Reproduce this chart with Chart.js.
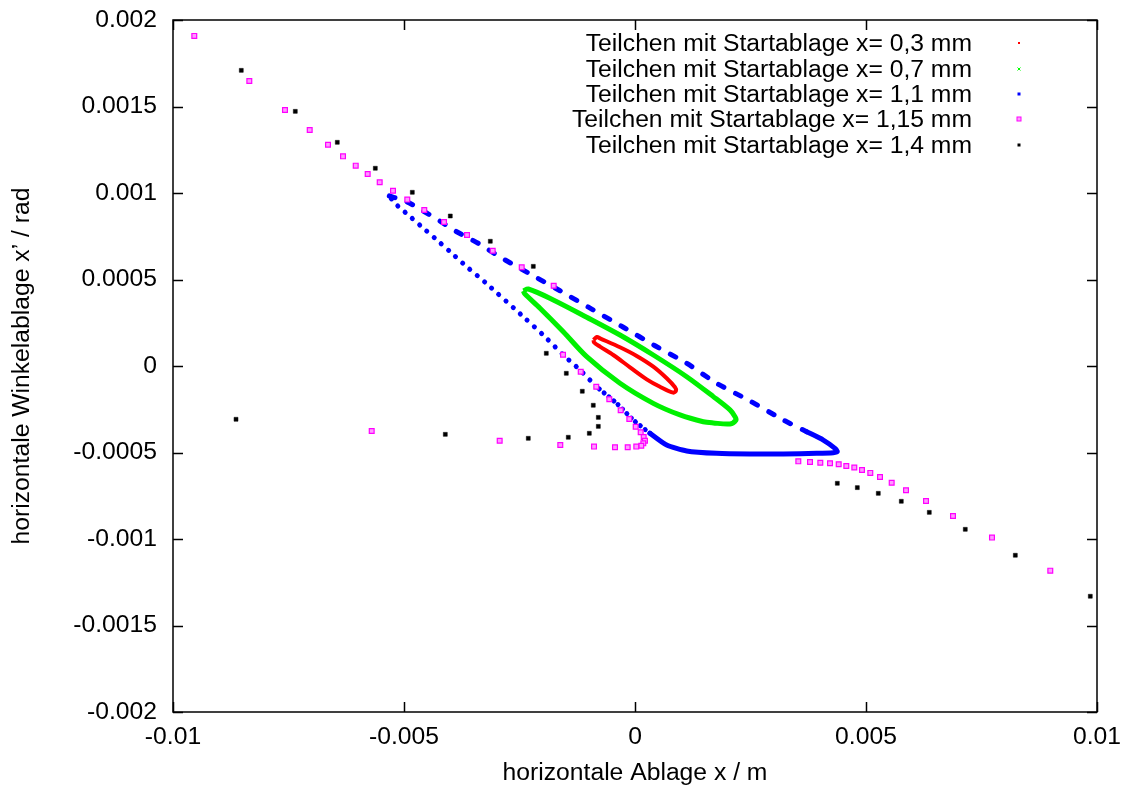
<!DOCTYPE html>
<html>
<head>
<meta charset="utf-8">
<script src="https://cdn.jsdelivr.net/npm/chart.js@4.4.1/dist/chart.umd.min.js"></script>
<style>
  html, body { margin: 0; padding: 0; background: #fff; }
  #wrap { width: 1130px; height: 790px; }
</style>
</head>
<body>
<div id="wrap"><canvas id="chartCanvas" width="1130" height="790"></canvas></div>
<script>
// phase space points: [x / m, x' / rad]
const start03 = [
  [-0.000898, 0.000150], [-0.000823, 0.000168], [-0.000758, 0.000160], [-0.000325, 0.000108],
  [0.000037, 0.0000578], [0.000396, -0.000004], [0.000686, -0.0000711], [0.000866, -0.000123],
  [0.000887, -0.000142], [0.000829, -0.000154], [0.000541, -0.000120], [0.000253, -0.0000769],
  [-0.000108, -0.0000075], [-0.000470, 0.0000636], [-0.000758, 0.000112], [-0.000887, 0.000137],
  [-0.000898, 0.000150]
];

const start07 = [
  [-0.002418, 0.000434], [-0.002310, 0.000445], [-0.001768, 0.000382], [-0.001045, 0.000282],
  [-0.000325, 0.000179], [0.000396, 0.0000636], [0.001119, -0.0000618], [0.001695, -0.000177],
  [0.002056, -0.000254], [0.002165, -0.000293], [0.002186, -0.000312], [0.002056, -0.000335],
  [0.001695, -0.000329], [0.001478, -0.000322], [0.000974, -0.000283], [0.000396, -0.000216],
  [-0.000325, -0.000100], [-0.001045, 0.0000538], [-0.001552, 0.000198], [-0.002056, 0.000334],
  [-0.002381, 0.000416], [-0.002418, 0.000434]
];

const start11 = [
  [-0.005318, 0.000983], [-0.004942, 0.000950], [-0.004582, 0.000896], [-0.004221, 0.000838],
  [-0.003859, 0.000776], [-0.003392, 0.000709], [-0.002922, 0.000630], [-0.002310, 0.000538],
  [-0.001623, 0.000435], [-0.000937, 0.000329], [-0.000253, 0.000224], [0.000433, 0.000117],
  [0.001119, 0.0000156], [0.001768, -0.000100], [0.002489, -0.000202], [0.003210, -0.000312],
  [0.003716, -0.000380], [0.004076, -0.000428], [0.004329, -0.000476], [0.004379, -0.000495],
  [0.004292, -0.000501], [0.003933, -0.000505], [0.003210, -0.000509], [0.002489, -0.000509],
  [0.001768, -0.000505], [0.001119, -0.000491], [0.000686, -0.000457], [0.000325, -0.000389],
  [-0.000037, -0.000312], [-0.000396, -0.000216], [-0.000829, -0.000120], [-0.001190, -0.0000231],
  [-0.001552, 0.0000636], [-0.001948, 0.000169], [-0.002381, 0.000276], [-0.003247, 0.000484],
  [-0.003643, 0.000574], [-0.004004, 0.000661], [-0.004329, 0.000738], [-0.004617, 0.000805],
  [-0.004907, 0.000873], [-0.005195, 0.000940], [-0.005318, 0.000983]
];

const start115 = [
  [-0.009539, 0.001908], [-0.008348, 0.001647], [-0.007576, 0.001480], [-0.007041, 0.001364],
  [-0.006645, 0.001279], [-0.006320, 0.001212], [-0.006045, 0.001158], [-0.005786, 0.001110],
  [-0.005526, 0.001062], [-0.005238, 0.001013], [-0.004929, 0.000962], [-0.004561, 0.000902],
  [-0.004134, 0.000832], [-0.003636, 0.000757], [-0.003080, 0.000666], [-0.002452, 0.000571],
  [-0.001760, 0.000464], [-0.001558, 0.0000653], [-0.001175, -0.0000329], [-0.000838, -0.000120],
  [-0.000556, -0.000192], [-0.000310, -0.000256], [-0.000123, -0.000306], [0.000015, -0.000351],
  [0.000123, -0.000383], [0.000188, -0.000410], [0.000216, -0.000432], [0.000180, -0.000447],
  [0.000136, -0.000461], [0.000028, -0.000466], [-0.000158, -0.000470], [-0.000433, -0.000470],
  [-0.000887, -0.000466], [-0.001617, -0.000457], [-0.002929, -0.000432], [-0.005699, -0.000376],
  [0.003535, -0.000551], [0.003788, -0.000555], [0.004011, -0.000559], [0.004221, -0.000562],
  [0.004409, -0.000568], [0.004574, -0.000578], [0.004747, -0.000587], [0.004913, -0.000601],
  [0.005093, -0.000618], [0.005303, -0.000642], [0.005556, -0.000675], [0.005866, -0.000718],
  [0.006299, -0.000780], [0.006883, -0.000867], [0.007727, -0.000992], [0.008989, -0.001183]
];

const start14 = [
  [-0.008522, 0.001709], [-0.007353, 0.001472], [-0.006444, 0.001293], [-0.005621, 0.001143],
  [-0.004820, 0.001004], [-0.003998, 0.000867], [-0.003132, 0.000721], [-0.002201, 0.000576],
  [-0.001920, 0.0000734], [-0.001487, -0.0000422], [-0.001141, -0.000146], [-0.000903, -0.000227],
  [-0.000794, -0.000297], [-0.000794, -0.000349], [-0.000989, -0.000389], [-0.001444, -0.000412],
  [-0.002310, -0.000418], [-0.004106, -0.000395], [-0.008636, -0.000308],
  [0.004379, -0.000678], [0.004812, -0.000703], [0.005266, -0.000736], [0.005764, -0.000782],
  [0.006370, -0.000846], [0.007149, -0.000944], [0.008232, -0.001094], [0.009855, -0.001331]
];

const seriesLabels = [
  "Teilchen mit Startablage x= 0,3 mm",
  "Teilchen mit Startablage x= 0,7 mm",
  "Teilchen mit Startablage x= 1,1 mm",
  "Teilchen mit Startablage x= 1,15 mm",
  "Teilchen mit Startablage x= 1,4 mm"
];

const xTickValues = [-0.01, -0.005, 0, 0.005, 0.01];
const yTickValues = [-0.002, -0.0015, -0.001, -0.0005, 0, 0.0005, 0.001, 0.0015, 0.002];

const toXY = (pts) => pts.map(([x, y]) => ({ x, y }));

const FONT = "'Liberation Sans', Arial, Helvetica, sans-serif";
Chart.defaults.font.family = FONT;
Chart.defaults.font.size = 24.7;
Chart.defaults.color = "#000";

// gnuplot style frame with inward ticks on all four sides
const framePlugin = {
    id: "frame",
    beforeDatasetsDraw(chart) {
        const { ctx, chartArea: a, scales } = chart;
        ctx.save();
        ctx.strokeStyle = "#000";
        ctx.lineWidth = 1.5;
        ctx.strokeRect(a.left, a.top, a.right - a.left, a.bottom - a.top);
        ctx.beginPath();
        xTickValues.forEach((v) => {
            const px = Math.round(scales.x.getPixelForValue(v)) + 0.5;
            ctx.moveTo(px, a.bottom);
            ctx.lineTo(px, a.bottom - 10);
            ctx.moveTo(px, a.top);
            ctx.lineTo(px, a.top + 10);
        });
        yTickValues.forEach((v) => {
            const py = Math.round(scales.y.getPixelForValue(v)) + 0.5;
            ctx.moveTo(a.left, py);
            ctx.lineTo(a.left + 10, py);
            ctx.moveTo(a.right, py);
            ctx.lineTo(a.right - 10, py);
        });
        ctx.stroke();
        ctx.restore();
    },
    afterDraw(chart) {
        // key in the top right corner: text right aligned, sample point to the right
        const ctx = chart.ctx;
        const rows = [43, 69, 94, 119, 145];
        ctx.save();
        ctx.font = "24.7px " + FONT;
        ctx.fillStyle = "#000";
        ctx.textAlign = "right";
        ctx.textBaseline = "middle";
        seriesLabels.forEach((label, i) => ctx.fillText(label, 972, rows[i] + 1));
        const mx = 1019;
        ctx.fillStyle = "#ff0000";
        ctx.fillRect(mx - 1, rows[0] - 1, 2, 2);
        ctx.strokeStyle = "#00ff00";
        ctx.lineWidth = 1;
        ctx.beginPath();
        ctx.moveTo(mx - 1.5, rows[1] - 1.5); ctx.lineTo(mx + 1.5, rows[1] + 1.5);
        ctx.moveTo(mx + 1.5, rows[1] - 1.5); ctx.lineTo(mx - 1.5, rows[1] + 1.5);
        ctx.stroke();
        ctx.fillStyle = "#0000ff";
        ctx.fillRect(mx - 1.5, rows[2] - 1.5, 3, 3);
        ctx.fillStyle = "#ff99ff";
        ctx.fillRect(mx - 2, rows[3] - 2, 4, 4);
        ctx.strokeStyle = "#ff00ff";
        ctx.strokeRect(mx - 2, rows[3] - 2, 4, 4);
        ctx.fillStyle = "#000";
        ctx.fillRect(mx - 1.5, rows[4] - 1.5, 3, 3);
        ctx.restore();
    }
};

const ctx = document.getElementById("chartCanvas").getContext("2d");

new Chart(ctx, {
    type: "scatter",
    data: {
        datasets: [
            {
                label: seriesLabels[0],
                data: toXY(start03),
                showLine: true,
                borderColor: "#ff0000",
                borderWidth: 4,
                tension: 0.3,
                pointRadius: 0,
                order: 5,
            },
            {
                label: seriesLabels[1],
                data: toXY(start07),
                showLine: true,
                borderColor: "#00f000",
                borderWidth: 5,
                tension: 0.3,
                pointRadius: 0,
                order: 4,
            },
            {
                label: seriesLabels[2],
                data: toXY(start11),
                showLine: true,
                borderColor: "#0000ff",
                borderWidth: 5,
                borderCapStyle: "round",
                tension: 0.2,
                pointRadius: 0,
                order: 3,
                segment: {
                    borderDash: (c) => {
                        const i = c.p0DataIndex;
                        if (i < 16) return [6, 13];
                        if (i < 27) return [];
                        if (i < 30) return [0.1, 6];
                        return [0.1, 9.5];
                    },
                },
            },
            {
                label: seriesLabels[3],
                data: toXY(start115),
                pointStyle: "rect",
                pointRadius: 3.4,
                backgroundColor: "#ff99ff",
                borderColor: "#ff00ff",
                borderWidth: 1.2,
                order: 2,
            },
            {
                label: seriesLabels[4],
                data: toXY(start14),
                pointStyle: "rect",
                pointRadius: 2.8,
                backgroundColor: "#000",
                borderColor: "#000",
                borderWidth: 0.5,
                order: 1,
            },
        ],
    },
    options: {
        responsive: false,
        animation: false,
        layout: { padding: { left: 0, top: 20, right: 33, bottom: 0 } },
        plugins: {
            legend: { display: false },
            tooltip: { enabled: false },
        },
        scales: {
            x: {
                type: "linear",
                min: -0.01,
                max: 0.01,
                afterBuildTicks: (scale) => { scale.ticks = xTickValues.map((value) => ({ value })); },
                afterFit: (scale) => {
                    scale.height = 78;
                    scale.paddingLeft = 0;
                    scale.paddingRight = 0;
                },
                ticks: { padding: 10, maxRotation: 0, callback: (v) => String(v) },
                grid: { display: false, drawTicks: false },
                border: { display: false },
                title: { display: true, text: "horizontale Ablage x / m", padding: { top: 0, bottom: 2 } },
            },
            y: {
                type: "linear",
                min: -0.002,
                max: 0.002,
                afterBuildTicks: (scale) => { scale.ticks = yTickValues.map((value) => ({ value })); },
                afterFit: (scale) => {
                    scale.width = 173;
                    scale.paddingTop = 0;
                    scale.paddingBottom = 0;
                },
                ticks: { padding: 16, callback: (v) => String(v) },
                grid: { display: false, drawTicks: false },
                border: { display: false },
                title: { display: true, text: "horizontale Winkelablage x\u2019 / rad", padding: { top: 7, bottom: 0 } },
            },
        },
    },
    plugins: [framePlugin],
});
</script>
</body>
</html>
